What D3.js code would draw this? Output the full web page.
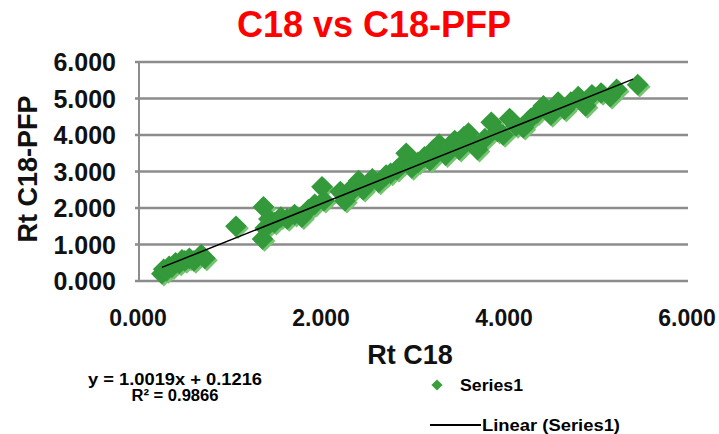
<!DOCTYPE html>
<html>
<head>
<meta charset="utf-8">
<script src="https://cdn.jsdelivr.net/npm/d3@7"></script>
<style>
  body { margin: 0; background: #fff; }
  svg { font-family: "Liberation Sans", Arial, sans-serif; }
</style>
</head>
<body>
<svg id="chart"></svg>
<script>
// retention times
const rtC18 = [0.25, 0.27, 0.30, 0.33, 0.36, 0.40, 0.44, 0.47, 0.50, 0.55, 0.60, 0.68, 0.72,
  1.06, 1.35, 1.36, 1.38, 1.42, 1.48, 1.55, 1.62, 1.70, 1.78, 1.85, 1.92, 2.00, 2.02,
  2.20, 2.25, 2.28, 2.35, 2.40, 2.45, 2.55, 2.62, 2.70, 2.75, 2.82, 2.88, 2.92, 2.98,
  3.05, 3.12, 3.18, 3.22, 3.28, 3.35, 3.40, 3.45, 3.50, 3.55, 3.60, 3.65, 3.70, 3.78,
  3.85, 3.92, 3.98, 4.05, 4.12, 4.20, 4.28, 4.35, 4.42, 4.50, 4.58, 4.65, 4.72, 4.80,
  4.88, 4.95, 5.05, 5.15, 5.22, 5.45];
const rtPFP = [0.20, 0.32, 0.28, 0.40, 0.38, 0.50, 0.48, 0.58, 0.55, 0.62, 0.55, 0.72, 0.62,
  1.50, 1.15, 2.03, 1.45, 1.70, 1.60, 1.75, 1.70, 1.82, 1.75, 1.95, 2.10, 2.58, 2.20,
  2.45, 2.20, 2.35, 2.60, 2.75, 2.50, 2.80, 2.70, 2.90, 2.95, 3.05, 3.20, 3.50, 3.10,
  3.25, 3.40, 3.30, 3.60, 3.75, 3.45, 3.70, 3.85, 3.60, 3.95, 4.05, 3.75, 3.60, 3.90,
  4.35, 4.10, 4.00, 4.45, 4.25, 4.20, 4.45, 4.60, 4.80, 4.55, 4.90, 4.70, 4.90, 5.05,
  4.80, 5.10, 5.15, 5.05, 5.25, 5.38];
const xTicks = [0, 2, 4, 6];
const yTicks = [0, 1, 2, 3, 4, 5, 6];
const slope = 1.0019, intercept = 0.1216, rSquared = 0.9866;

const width = 719, height = 434;
const margin = { top: 62, right: 31, bottom: 153, left: 139 };

const svg = d3.select("#chart").attr("width", width).attr("height", height);

const x = d3.scaleLinear().domain([0, 6]).range([margin.left, width - margin.right]);
const y = d3.scaleLinear().domain([0, 6]).range([height - margin.bottom, margin.top]);

// gridlines
svg.append("g")
  .selectAll("line")
  .data(yTicks)
  .join("line")
  .attr("x1", x(0) - 4)
  .attr("x2", x(6))
  .attr("y1", d => y(d))
  .attr("y2", d => y(d))
  .attr("stroke", "#8c8c8c")
  .attr("stroke-width", 2.5);

svg.append("line")
  .attr("x1", x(0)).attr("x2", x(0))
  .attr("y1", y(0)).attr("y2", y(6))
  .attr("stroke", "#8c8c8c")
  .attr("stroke-width", 2);

// tick labels
svg.append("g")
  .selectAll("text")
  .data(yTicks)
  .join("text")
  .attr("x", 116)
  .attr("y", d => y(d) + 9)
  .attr("text-anchor", "end")
  .attr("font-size", 25)
  .attr("font-weight", "bold")
  .attr("fill", "#111")
  .text(d3.format(".3f"));

svg.append("g")
  .selectAll("text")
  .data(xTicks)
  .join("text")
  .attr("x", d => x(d) - 1)
  .attr("y", 326)
  .attr("text-anchor", "middle")
  .attr("font-size", 23)
  .attr("font-weight", "bold")
  .attr("fill", "#111")
  .text(d3.format(".3f"));

// points
const pts = rtC18.map((d, i) => [d, rtPFP[i]]);
const diamond = d3.symbol().type(d3.symbolDiamond2).size(300);

svg.append("g")
  .selectAll("path")
  .data(pts)
  .join("path")
  .attr("d", diamond)
  .attr("transform", d => `translate(${x(d[0]) + 2},${y(d[1]) + 2})`)
  .attr("fill", "#74c470");

svg.append("g")
  .selectAll("path")
  .data(pts)
  .join("path")
  .attr("d", diamond)
  .attr("transform", d => `translate(${x(d[0])},${y(d[1])})`)
  .attr("fill", "#33993a");

// trendline
const xr = d3.extent(rtC18);
svg.append("line")
  .attr("x1", x(xr[0]))
  .attr("y1", y(slope * xr[0] + intercept))
  .attr("x2", x(xr[1] - 0.05))
  .attr("y2", y(slope * (xr[1] - 0.05) + intercept))
  .attr("stroke", "#000")
  .attr("stroke-width", 1.5);

// title
svg.append("text")
  .attr("x", 374)
  .attr("y", 37)
  .attr("text-anchor", "middle")
  .attr("font-size", 36)
  .attr("font-weight", "bold")
  .attr("fill", "#ff0000")
  .text("C18 vs C18-PFP");

svg.append("text")
  .attr("x", 410)
  .attr("y", 364)
  .attr("text-anchor", "middle")
  .attr("font-size", 27)
  .attr("font-weight", "bold")
  .attr("fill", "#111")
  .text("Rt C18");

svg.append("text")
  .attr("transform", "translate(37,169) rotate(-90)")
  .attr("text-anchor", "middle")
  .attr("font-size", 27)
  .attr("font-weight", "bold")
  .attr("fill", "#111")
  .text("Rt C18-PFP");

// equation
svg.append("text")
  .attr("x", 175).attr("y", 385)
  .attr("text-anchor", "middle")
  .attr("font-size", 16)
  .attr("font-weight", "bold")
  .attr("textLength", 174)
  .attr("lengthAdjust", "spacingAndGlyphs")
  .text(`y = ${slope}x + ${intercept}`);

svg.append("text")
  .attr("x", 175).attr("y", 401)
  .attr("text-anchor", "middle")
  .attr("font-size", 16)
  .attr("font-weight", "bold")
  .attr("textLength", 87)
  .attr("lengthAdjust", "spacingAndGlyphs")
  .text(`R² = ${rSquared}`);

// legend
const legend = svg.append("g");
legend.append("path")
  .attr("d", d3.symbol().type(d3.symbolDiamond2).size(80))
  .attr("transform", "translate(437,385)")
  .attr("fill", "#3a9f3a");
legend.append("text")
  .attr("x", 460).attr("y", 391)
  .attr("font-size", 17)
  .attr("font-weight", "bold")
  .attr("textLength", 63)
  .attr("lengthAdjust", "spacingAndGlyphs")
  .text("Series1");
legend.append("line")
  .attr("x1", 430).attr("x2", 481)
  .attr("y1", 425).attr("y2", 425)
  .attr("stroke", "#000")
  .attr("stroke-width", 2);
legend.append("text")
  .attr("x", 482).attr("y", 431)
  .attr("font-size", 17)
  .attr("font-weight", "bold")
  .attr("textLength", 138)
  .attr("lengthAdjust", "spacingAndGlyphs")
  .text("Linear (Series1)");
</script>
</body>
</html>
